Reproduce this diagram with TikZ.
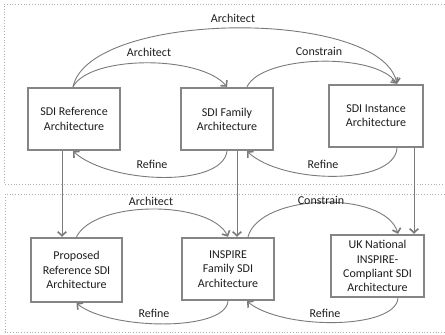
\documentclass[tikz,border=0pt]{standalone}
\usepackage{fontspec}
\setmainfont{Carlito}
\usetikzlibrary{arrows.meta}
\definecolor{boxline}{HTML}{858585}
\definecolor{conn}{HTML}{7A7A7A}
\definecolor{dots}{HTML}{B0B0B0}
\definecolor{txt}{HTML}{1E1E1E}
\tikzset{
  archbox/.style={draw=boxline, line width=2.4pt, fill=white, align=center,
    text=txt, inner sep=0pt, font=\fontsize{12}{14.2}\selectfont},
  conn/.style={draw=conn, line width=0.9pt,
    -{Straight Barb[length=4pt,width=8.5pt,line width=1.6pt]}},
  lbl/.style={text=txt, font=\fontsize{12}{14}\selectfont, inner sep=0pt},
  region/.style={draw=dots, line width=0.8pt, dotted}
}
\begin{document}
\begin{tikzpicture}[x=1pt,y=-1pt]
\useasboundingbox (0,0) rectangle (445,335);
% dotted regions (open on the right)
\draw[region] (450,4) -- (4,4) -- (4,184) -- (450,184);
\draw[region] (450,194) -- (5,194) -- (5,332) -- (450,332);
% boxes
\node[archbox, minimum width=92pt, minimum height=62pt] (b1) at (74,119) {SDI Reference\\Architecture};
\node[archbox, minimum width=92pt, minimum height=62pt] (b2) at (227,119) {SDI Family\\Architecture};
\node[archbox, minimum width=94pt, minimum height=62pt] (b3) at (376,116) {SDI Instance\\Architecture};
\node[archbox, minimum width=91pt, minimum height=64pt] (b4) at (76.5,270) {Proposed\\Reference SDI\\Architecture};
\node[archbox, minimum width=92pt, minimum height=62pt] (b5) at (228,269) {INSPIRE\\Family SDI\\Architecture};
\node[archbox, minimum width=93pt, minimum height=62pt] (b6) at (377.5,266) {UK National\\INSPIRE-\\Compliant SDI\\Architecture};
% anchor points on box edges
\coordinate (b1t) at ([xshift=-1pt]b1.north);
\coordinate (b1b) at ([xshift=-1pt]b1.south);
\coordinate (b2tl) at (b2.north);
\coordinate (b2tr) at ([xshift=20pt]b2.north);
\coordinate (b2bl) at (b2.south);
\coordinate (b2br) at ([xshift=20pt]b2.south);
\coordinate (b3t) at ([xshift=21pt]b3.north);
\coordinate (b3b) at ([xshift=21pt]b3.south);
\coordinate (b4t) at (b4.north);
\coordinate (b4b) at (b4.south);
\coordinate (b5tl) at (b5.north);
\coordinate (b5tr) at ([xshift=20pt]b5.north);
\coordinate (b5bl) at (b5.south);
\coordinate (b5br) at ([xshift=19pt]b5.south);
\coordinate (b6t) at ([xshift=20.5pt]b6.north);
\coordinate (b6b) at ([xshift=20.5pt]b6.south);
% top row curves
\draw[conn] (b1t) .. controls (90,10) and (380,8) .. (b3t);
\draw[conn] (b1t) .. controls (90,55) and (200,55) .. (b2tl);
\draw[conn] (b2tr) .. controls (262,55) and (375,52) .. (b3t);
\draw[conn] (b2bl) .. controls (222,188) and (110,184) .. (b1b);
\draw[conn] (b3b) .. controls (394,186) and (282,184) .. (b2br);
% vertical arrows
\draw[conn] ([xshift=-12pt]b1.south) -- ([xshift=-14.5pt]b4.north);
\draw[conn] ([xshift=10pt]b2.south) -- ([xshift=9pt]b5.north);
\draw[conn] ([xshift=38pt]b3.south) -- ([xshift=36.5pt]b6.north);
% bottom row curves
\draw[conn] (b4t) .. controls (95,200) and (210,200) .. (b5tl);
\draw[conn] (b5tr) .. controls (260,193) and (385,190) .. (b6t);
\draw[conn] (b5bl) .. controls (225,332) and (110,330) .. (b4b);
\draw[conn] (b6b) .. controls (395,330) and (282,330) .. (b5br);
% labels
\node[lbl] (l1) at (233,18) {Architect};
\node[lbl] (l2) at (149,52) {Architect};
\node[lbl] (l3) at (319,51) {Constrain};
\node[lbl] (l4) at (152,164) {Refine};
\node[lbl] (l5) at (323,164) {Refine};
\node[lbl] (l6) at (151,201) {Architect};
\node[lbl] (l7) at (321,200) {Constrain};
\node[lbl] (l8) at (154,313) {Refine};
\node[lbl] (l9) at (325,313) {Refine};
\end{tikzpicture}
\end{document}
